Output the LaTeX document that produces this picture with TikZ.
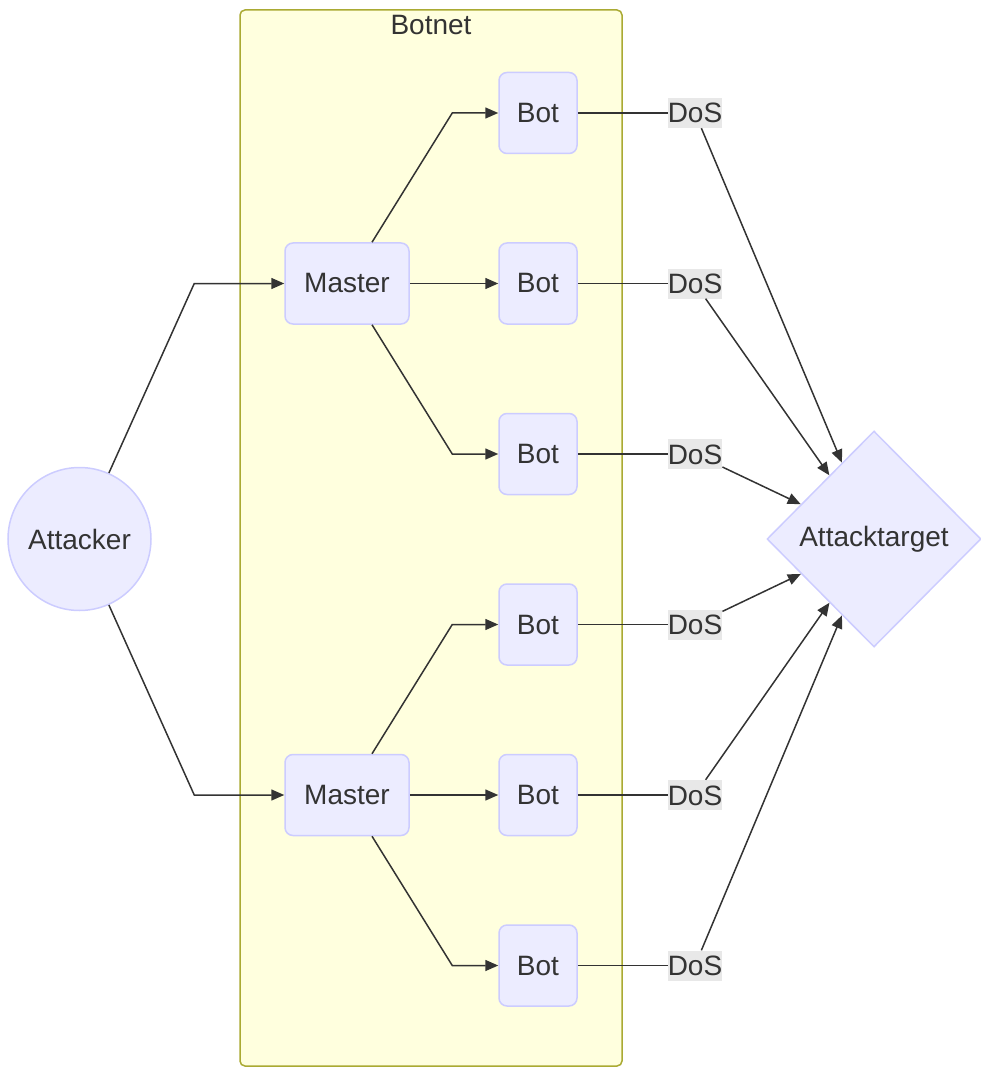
\documentclass[tikz,border=0pt]{standalone}
\usepackage{fontspec}
\setmainfont{Liberation Sans}
\usetikzlibrary{shapes.geometric,arrows.meta,calc}
\definecolor{nodefill}{HTML}{ECECFF}
\definecolor{nodeline}{HTML}{CCCCFF}
\definecolor{clusterfill}{HTML}{FFFFDE}
\definecolor{clusterline}{HTML}{AAAA33}
\definecolor{txt}{HTML}{333333}
\definecolor{edge}{HTML}{333333}
\definecolor{lblbg}{HTML}{E8E8E8}
\begin{document}
\begin{tikzpicture}[x=1pt,y=-1pt,
  font=\fontsize{28}{34}\selectfont, text=txt,
  box/.style={draw=nodeline, fill=nodefill, line width=1.5pt, rounded corners=8pt, minimum height=81pt, inner sep=0pt},
  masterbox/.style={box, minimum width=124pt},
  botbox/.style={box, minimum width=78pt},
  doslbl/.style={fill=lblbg, inner sep=0pt, minimum height=30pt, text height=20pt, text depth=0pt},
  conn/.style={draw=edge, line width=1.5pt},
  arr/.style={conn, -{Triangle[length=13pt,width=11pt]}}]
\useasboundingbox (0,0) rectangle (981,1067);
% cluster
\draw[fill=clusterfill, draw=clusterline, line width=1.5pt, rounded corners=5pt] (240,10) rectangle (622,1066);
\node[anchor=base] (lbl) at (431,35) {Botnet};
% nodes
\node[circle, draw=nodeline, fill=nodefill, line width=1.5pt, minimum size=143pt, inner sep=0pt] (att) at (79.5,539) {Attacker};
\node[masterbox] (m1) at (347,283.5) {Master};
\node[masterbox] (m2) at (347,795) {Master};
\node[botbox] (b1) at (538,113) {Bot};
\node[botbox] (b2) at (538,283.5) {Bot};
\node[botbox] (b3) at (538,454) {Bot};
\node[botbox] (b4) at (538,624.5) {Bot};
\node[botbox] (b5) at (538,795) {Bot};
\node[botbox] (b6) at (538,965.5) {Bot};
\node[diamond, aspect=1, draw=nodeline, fill=nodefill, line width=1.5pt, minimum width=214pt, minimum height=216pt, inner sep=0pt] (tgt) at (874,539) {Attacktarget};
\foreach \i/\y in {1/113,2/283.5,3/454,4/624.5,5/795,6/965.5}{
  \node[doslbl] (d\i) at (695,\y) {DoS};
}
% attacker to masters
\draw[arr] (att.66) -- ([xshift=-90pt]m1.west) -- (m1.west);
\draw[arr] (att.-66) -- ([xshift=-90pt]m2.west) -- (m2.west);
% masters to bots
\draw[arr] ([xshift=25pt]m1.north) -- ([xshift=-46pt]b1.west) -- (b1.west);
\draw[arr] (m1.east) -- (b2.west);
\draw[arr] ([xshift=25pt]m1.south) -- ([xshift=-46pt]b3.west) -- (b3.west);
\draw[arr] ([xshift=25pt]m2.north) -- ([xshift=-46pt]b4.west) -- (b4.west);
\draw[arr] (m2.east) -- (b5.west);
\draw[arr] ([xshift=25pt]m2.south) -- ([xshift=-46pt]b6.west) -- (b6.west);
% bots to DoS labels to target
\foreach \i in {1,...,6}{
  \draw[conn] (b\i.east) -- (d\i.west);
  \draw[arr] (d\i) -- (tgt);
}
\end{tikzpicture}
\end{document}
